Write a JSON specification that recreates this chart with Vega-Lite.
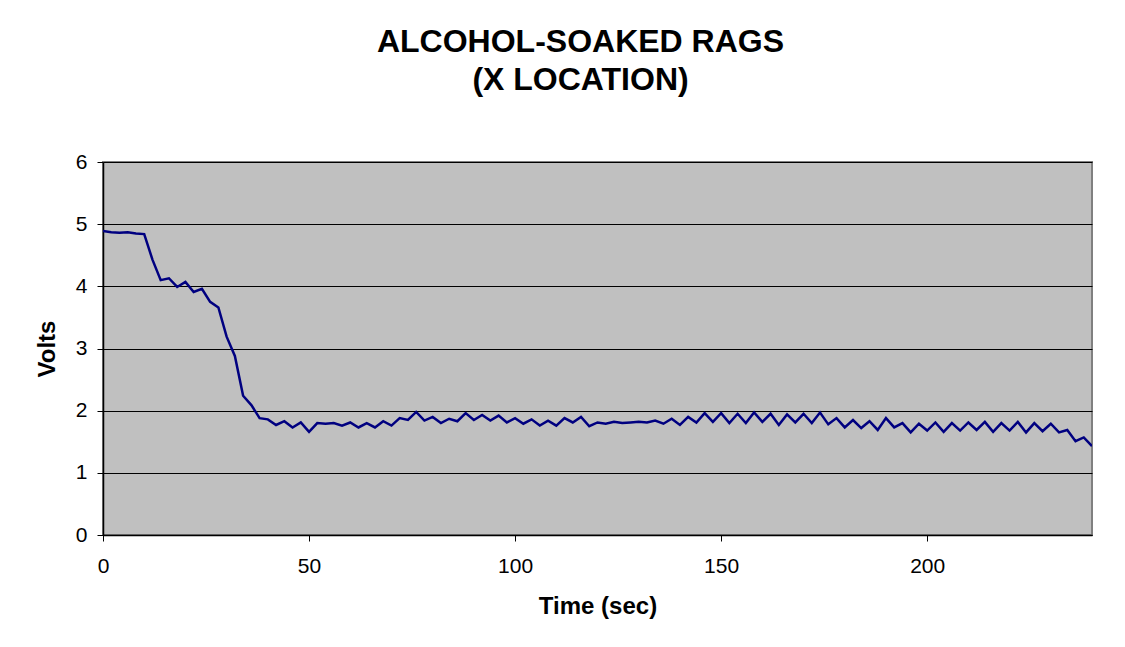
{
  "$schema": "https://vega.github.io/schema/vega-lite/v6.json",
  "width": 989,
  "height": 373,
  "autosize": {"type": "none"},
  "padding": {"left": 103, "top": 162, "right": 33, "bottom": 112},
  "background": "white",
  "title": {
    "text": ["ALCOHOL-SOAKED RAGS", "(X LOCATION)"],
    "font": "Liberation Sans",
    "fontSize": 32,
    "fontWeight": "bold",
    "color": "black",
    "lineHeight": 38,
    "anchor": "middle",
    "dx": -17,
    "offset": 54
  },
  "config": {
    "view": {"fill": "#C0C0C0", "stroke": "#808080", "strokeWidth": 2},
    "axis": {
      "labelFont": "Liberation Sans",
      "labelFontSize": 21,
      "labelColor": "black",
      "labelFlush": false,
      "titleFont": "Liberation Sans",
      "titleFontSize": 24,
      "titleFontWeight": "bold",
      "titleColor": "black",
      "tickColor": "black",
      "tickSize": 6,
      "domainColor": "black",
      "domainWidth": 1.5
    }
  },
  "data": {"values": [
    {"t": 0, "v": 4.89}, {"t": 2, "v": 4.87}, {"t": 4, "v": 4.86}, {"t": 6, "v": 4.87}, {"t": 8, "v": 4.85},
    {"t": 10, "v": 4.84}, {"t": 12, "v": 4.43}, {"t": 14, "v": 4.10}, {"t": 16, "v": 4.13}, {"t": 18, "v": 3.99},
    {"t": 20, "v": 4.07}, {"t": 22, "v": 3.91}, {"t": 24, "v": 3.96}, {"t": 26, "v": 3.75}, {"t": 28, "v": 3.66},
    {"t": 30, "v": 3.19}, {"t": 32, "v": 2.88}, {"t": 34, "v": 2.24}, {"t": 36, "v": 2.09}, {"t": 38, "v": 1.88},
    {"t": 40, "v": 1.86}, {"t": 42, "v": 1.77}, {"t": 44, "v": 1.83}, {"t": 46, "v": 1.73}, {"t": 48, "v": 1.81},
    {"t": 50, "v": 1.66}, {"t": 52, "v": 1.80}, {"t": 54, "v": 1.79}, {"t": 56, "v": 1.80}, {"t": 58, "v": 1.76},
    {"t": 60, "v": 1.81}, {"t": 62, "v": 1.73}, {"t": 64, "v": 1.80}, {"t": 66, "v": 1.73}, {"t": 68, "v": 1.83},
    {"t": 70, "v": 1.76}, {"t": 72, "v": 1.88}, {"t": 74, "v": 1.85}, {"t": 76, "v": 1.98}, {"t": 78, "v": 1.84},
    {"t": 80, "v": 1.90}, {"t": 82, "v": 1.80}, {"t": 84, "v": 1.87}, {"t": 86, "v": 1.83}, {"t": 88, "v": 1.96},
    {"t": 90, "v": 1.85}, {"t": 92, "v": 1.93}, {"t": 94, "v": 1.84}, {"t": 96, "v": 1.92}, {"t": 98, "v": 1.81},
    {"t": 100, "v": 1.88}, {"t": 102, "v": 1.79}, {"t": 104, "v": 1.86}, {"t": 106, "v": 1.76}, {"t": 108, "v": 1.84},
    {"t": 110, "v": 1.76}, {"t": 112, "v": 1.88}, {"t": 114, "v": 1.81}, {"t": 116, "v": 1.90}, {"t": 118, "v": 1.75},
    {"t": 120, "v": 1.81}, {"t": 122, "v": 1.79}, {"t": 124, "v": 1.82}, {"t": 126, "v": 1.80}, {"t": 128, "v": 1.81},
    {"t": 130, "v": 1.82}, {"t": 132, "v": 1.81}, {"t": 134, "v": 1.84}, {"t": 136, "v": 1.79}, {"t": 138, "v": 1.87},
    {"t": 140, "v": 1.77}, {"t": 142, "v": 1.90}, {"t": 144, "v": 1.81}, {"t": 146, "v": 1.96}, {"t": 148, "v": 1.82},
    {"t": 150, "v": 1.96}, {"t": 152, "v": 1.80}, {"t": 154, "v": 1.95}, {"t": 156, "v": 1.80}, {"t": 158, "v": 1.97},
    {"t": 160, "v": 1.82}, {"t": 162, "v": 1.95}, {"t": 164, "v": 1.77}, {"t": 166, "v": 1.94}, {"t": 168, "v": 1.81},
    {"t": 170, "v": 1.95}, {"t": 172, "v": 1.80}, {"t": 174, "v": 1.97}, {"t": 176, "v": 1.78}, {"t": 178, "v": 1.88},
    {"t": 180, "v": 1.73}, {"t": 182, "v": 1.85}, {"t": 184, "v": 1.72}, {"t": 186, "v": 1.83}, {"t": 188, "v": 1.69},
    {"t": 190, "v": 1.88}, {"t": 192, "v": 1.73}, {"t": 194, "v": 1.80}, {"t": 196, "v": 1.65}, {"t": 198, "v": 1.79},
    {"t": 200, "v": 1.68}, {"t": 202, "v": 1.81}, {"t": 204, "v": 1.66}, {"t": 206, "v": 1.80}, {"t": 208, "v": 1.68},
    {"t": 210, "v": 1.81}, {"t": 212, "v": 1.69}, {"t": 214, "v": 1.82}, {"t": 216, "v": 1.66}, {"t": 218, "v": 1.80},
    {"t": 220, "v": 1.68}, {"t": 222, "v": 1.82}, {"t": 224, "v": 1.65}, {"t": 226, "v": 1.80}, {"t": 228, "v": 1.67},
    {"t": 230, "v": 1.79}, {"t": 232, "v": 1.65}, {"t": 234, "v": 1.69}, {"t": 236, "v": 1.51}, {"t": 238, "v": 1.57},
    {"t": 240, "v": 1.43}
  ]},
  "mark": {"type": "line", "color": "#000080", "strokeWidth": 2.5, "clip": true},
  "encoding": {
    "x": {
      "field": "t", "type": "quantitative",
      "scale": {"domain": [0, 240], "nice": false, "zero": false},
      "axis": {"title": "Time (sec)", "values": [0, 50, 100, 150, 200], "grid": false, "domain": true, "labelPadding": 14, "titlePadding": 18}
    },
    "y": {
      "field": "v", "type": "quantitative",
      "scale": {"domain": [0, 6], "nice": false},
      "axis": {"title": "Volts", "values": [0, 1, 2, 3, 4, 5, 6], "grid": true, "gridColor": "black", "gridWidth": 1.2, "gridOpacity": 1, "labelPadding": 10, "titlePadding": 16}
    }
  }
}
